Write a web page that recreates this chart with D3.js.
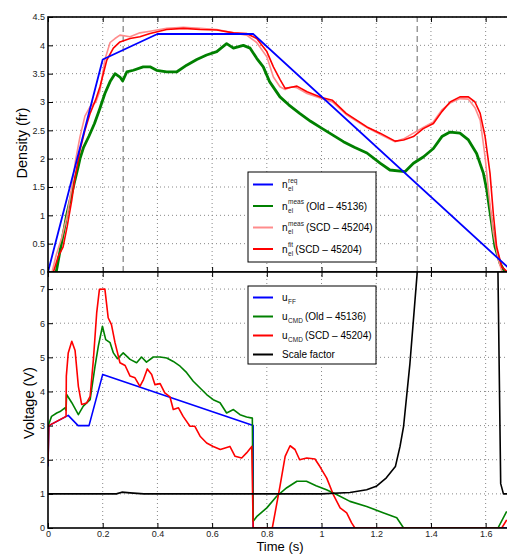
<!DOCTYPE html>
<html>
<head>
<meta charset="utf-8">
<script src="https://cdn.jsdelivr.net/npm/d3@7"></script>
<style>
body { margin: 0; background: #fff; }
text { font-family: "Liberation Sans", Arial, sans-serif; }
</style>
</head>
<body>
<div id="chart"></div>
<script>
// ticks
const xTicks = [0, 0.2, 0.4, 0.6, 0.8, 1, 1.2, 1.4, 1.6]
const densTicks = [0, 0.5, 1, 1.5, 2, 2.5, 3, 3.5, 4, 4.5]
const voltTicks = [0, 1, 2, 3, 4, 5, 6, 7]
const markerTimes = [0.275, 1.35]

// top panel: density
const reqT = [0, 0.2, 0.4, 0.75, 1.7]
const reqV = [0, 3.75, 4.2, 4.2, 0]

const oldMeasT = [0.03, 0.045, 0.06, 0.068, 0.08, 0.095, 0.11, 0.117, 0.13, 0.15, 0.17, 0.19, 0.208, 0.227, 0.245, 0.263, 0.273, 0.288, 0.312, 0.348, 0.373, 0.397, 0.434, 0.47, 0.507, 0.544, 0.58, 0.617, 0.653, 0.678, 0.714, 0.739, 0.763, 0.787, 0.81, 0.848, 0.88, 0.92, 0.96, 1.0, 1.04, 1.08, 1.12, 1.166, 1.214, 1.25, 1.305, 1.336, 1.372, 1.409, 1.44, 1.47, 1.506, 1.537, 1.567, 1.592, 1.604, 1.622, 1.634, 1.653, 1.67]
const oldMeasV = [0, 0.4, 0.78, 1.0, 1.25, 1.55, 1.85, 2.0, 2.2, 2.4, 2.62, 2.89, 3.15, 3.36, 3.5, 3.44, 3.37, 3.53, 3.56, 3.62, 3.62, 3.56, 3.53, 3.53, 3.65, 3.75, 3.83, 3.89, 4.03, 3.95, 4.0, 3.95, 3.77, 3.62, 3.36, 3.09, 2.95, 2.8, 2.66, 2.54, 2.42, 2.3, 2.2, 2.1, 1.92, 1.8, 1.77, 1.92, 2.03, 2.18, 2.39, 2.47, 2.45, 2.33, 2.09, 1.74, 1.45, 0.86, 0.45, 0.15, 0]

const scdMeasT = [0.015, 0.03, 0.05, 0.07, 0.087, 0.1, 0.117, 0.135, 0.154, 0.175, 0.19, 0.208, 0.227, 0.245, 0.263, 0.3, 0.336, 0.373, 0.434, 0.495, 0.556, 0.617, 0.678, 0.726, 0.763, 0.8, 0.824, 0.848, 0.867, 0.89, 0.91, 0.947, 1.0, 1.04, 1.09, 1.166, 1.214, 1.269, 1.3, 1.336, 1.372, 1.409, 1.44, 1.47, 1.506, 1.537, 1.561, 1.58, 1.598, 1.61, 1.628, 1.647, 1.66]
const scdMeasV = [0, 0.3, 0.6, 1.0, 1.5, 1.95, 2.39, 2.75, 2.92, 3.0, 3.2, 3.75, 4.05, 4.12, 4.18, 4.15, 4.22, 4.25, 4.3, 4.32, 4.3, 4.28, 4.22, 4.18, 4.05, 3.8, 3.44, 3.27, 3.22, 3.27, 3.25, 3.15, 3.06, 3.0, 2.78, 2.55, 2.43, 2.3, 2.35, 2.45, 2.55, 2.65, 2.86, 2.98, 3.06, 3.05, 2.9, 2.68, 2.03, 1.45, 0.69, 0.21, 0]

const scdFitT = [0.02, 0.037, 0.055, 0.07, 0.087, 0.1, 0.117, 0.135, 0.154, 0.175, 0.19, 0.215, 0.239, 0.263, 0.3, 0.336, 0.373, 0.434, 0.495, 0.556, 0.617, 0.678, 0.726, 0.763, 0.8, 0.824, 0.848, 0.867, 0.89, 0.91, 0.947, 1.0, 1.04, 1.09, 1.166, 1.214, 1.269, 1.3, 1.336, 1.372, 1.409, 1.44, 1.47, 1.506, 1.537, 1.561, 1.58, 1.598, 1.616, 1.628, 1.64, 1.659, 1.68]
const scdFitV = [0, 0.27, 0.44, 0.8, 1.27, 1.7, 2.15, 2.5, 2.8, 3.05, 3.27, 3.74, 3.95, 4.06, 4.12, 4.15, 4.21, 4.28, 4.3, 4.28, 4.27, 4.22, 4.21, 4.12, 3.89, 3.62, 3.4, 3.24, 3.26, 3.28, 3.18, 3.08, 3.03, 2.8, 2.56, 2.45, 2.31, 2.33, 2.39, 2.53, 2.62, 2.83, 3.0, 3.09, 3.09, 3.0, 2.8, 2.39, 1.74, 1.03, 0.45, 0.09, 0]

// bottom panel: voltage
const ffT = [0, 0.003, 0.074, 0.11, 0.15, 0.2, 0.75, 0.7501, 1.7]
const ffV = [1.8, 3.0, 3.3, 3.0, 3.0, 4.5, 3.0, 0, 0]

const oldCmdT = [0, 0.013, 0.032, 0.044, 0.062, 0.066, 0.068, 0.087, 0.111, 0.129, 0.154, 0.172, 0.184, 0.199, 0.211, 0.227, 0.239, 0.254, 0.275, 0.3, 0.324, 0.342, 0.36, 0.385, 0.41, 0.434, 0.458, 0.483, 0.507, 0.531, 0.556, 0.58, 0.604, 0.629, 0.653, 0.678, 0.702, 0.726, 0.747, 0.7501, 0.765, 0.8, 0.836, 0.873, 0.91, 0.945, 0.98, 1.018, 1.055, 1.104, 1.165, 1.225, 1.275, 1.3, 1.645, 1.677]
const oldCmdV = [2.98, 3.27, 3.37, 3.41, 3.52, 3.45, 3.91, 3.67, 3.32, 3.57, 3.76, 4.74, 5.33, 5.91, 5.52, 5.43, 5.13, 4.96, 5.13, 4.94, 4.84, 5.01, 4.86, 5.01, 5.01, 4.98, 4.88, 4.74, 4.55, 4.3, 4.1, 3.91, 3.76, 3.67, 3.37, 3.47, 3.32, 3.25, 3.22, 0.2, 0.35, 0.59, 0.93, 1.18, 1.37, 1.37, 1.24, 1.12, 0.98, 0.78, 0.63, 0.45, 0.3, 0, 0, 0.49]

const scdCmdT = [0, 0.003, 0.066, 0.067, 0.074, 0.087, 0.099, 0.111, 0.123, 0.141, 0.154, 0.166, 0.178, 0.188, 0.208, 0.22, 0.232, 0.245, 0.263, 0.282, 0.3, 0.318, 0.336, 0.349, 0.363, 0.379, 0.391, 0.41, 0.427, 0.446, 0.458, 0.477, 0.494, 0.519, 0.537, 0.556, 0.58, 0.604, 0.63, 0.665, 0.684, 0.708, 0.726, 0.745, 0.7501, 0.82, 0.848, 0.867, 0.885, 0.903, 0.92, 0.946, 0.976, 0.994, 1.019, 1.043, 1.068, 1.092, 1.11, 1.122, 1.659, 1.677]
const scdCmdV = [1.9, 3.0, 3.27, 4.45, 5.13, 5.47, 5.2, 4.15, 3.62, 3.66, 3.86, 4.94, 6.3, 6.99, 7.0, 6.16, 5.96, 5.43, 4.84, 4.76, 4.45, 4.4, 4.15, 4.35, 4.66, 4.5, 4.2, 4.23, 3.96, 3.84, 3.47, 3.52, 3.27, 2.98, 2.98, 2.69, 2.49, 2.39, 2.3, 2.39, 2.1, 2.05, 2.2, 2.39, 0, 0, 1.22, 2.1, 2.41, 2.3, 2.0, 2.05, 2.02, 1.8, 1.46, 0.98, 0.59, 0.44, 0.15, 0, 0, 0.24]

const scaleT = [0, 0.25, 0.27, 0.3, 0.35, 1.0, 1.104, 1.165, 1.2, 1.237, 1.27, 1.287, 1.3, 1.323, 1.349, 1.36, 1.63, 1.645, 1.655, 1.665, 1.7]
const scaleV = [1.0, 1.0, 1.05, 1.03, 1.0, 1.0, 1.04, 1.12, 1.22, 1.47, 1.8, 2.39, 2.98, 4.8, 7.4, 9, 9, 7.5, 1.3, 1.0, 1.0]

// legends
const topLegend = [
  {base: "n", sup: "req", sub: "el", rest: ""},
  {base: "n", sup: "meas", sub: "el", rest: "(Old \u2013 45136)"},
  {base: "n", sup: "meas", sub: "el", rest: "(SCD \u2013 45204)"},
  {base: "n", sup: "fit", sub: "el", rest: "(SCD \u2013 45204)"}
]
const botLegend = [
  {base: "u", sup: "", sub: "FF", rest: ""},
  {base: "u", sup: "", sub: "CMD", rest: "(Old \u2013 45136)"},
  {base: "u", sup: "", sub: "CMD", rest: "(SCD \u2013 45204)"},
  {base: "Scale factor", sup: "", sub: "", rest: ""}
]

const blue = "#0000ff", green = "#008000", red = "#ff0000", pink = "#ff8c8c"

const svg = d3.select("#chart")
              .append("svg")
              .attr("width", 507)
              .attr("height", 554)

const x = d3.scaleLinear().domain([0, 1.7]).range([48, 513])
const yTop = d3.scaleLinear().domain([0, 4.5]).range([272, 17])
const yBot = d3.scaleLinear().domain([0, 7.5]).range([528, 272])

function drawPanel(y, yTicks, id, showX) {
  const [x0, x1] = x.range()
  const [yb, yt] = y.range()
  const g = svg.append("g")

  g.append("rect")
   .attr("x", x0).attr("y", yt)
   .attr("width", x1 - x0).attr("height", yb - yt)
   .attr("fill", "#fff")

  svg.append("clipPath").attr("id", id)
     .append("rect")
     .attr("x", x0).attr("y", yt)
     .attr("width", x1 - x0).attr("height", yb - yt)

  // dotted grid
  g.append("g").selectAll("line")
   .data(xTicks.filter(d => d > 0))
   .join("line")
   .attr("x1", d => x(d)).attr("x2", d => x(d))
   .attr("y1", yb).attr("y2", yt)
   .attr("stroke", "#888").attr("stroke-dasharray", "1,3")
  g.append("g").selectAll("line")
   .data(yTicks.filter(d => d > 0))
   .join("line")
   .attr("x1", x0).attr("x2", x1)
   .attr("y1", d => y(d)).attr("y2", d => y(d))
   .attr("stroke", "#888").attr("stroke-dasharray", "1,3")

  const plot = g.append("g").attr("clip-path", `url(#${id})`)
  return {g, plot, showX}
}

function finishPanel(p, y, yTicks) {
  const [x0, x1] = x.range()
  const [yb, yt] = y.range()
  const g = p.g

  const bottomAxis = g.append("g")
     .attr("transform", `translate(0,${yb})`)
     .call(d3.axisBottom(x).tickValues(xTicks).tickSize(-5).tickPadding(3)
             .tickFormat(p.showX ? d => d : ""))
  const topAxis = g.append("g")
     .attr("transform", `translate(0,${yt})`)
     .call(d3.axisTop(x).tickValues(xTicks).tickSize(-5).tickFormat(""))
  const leftAxis = g.append("g")
     .attr("transform", `translate(${x0},0)`)
     .call(d3.axisLeft(y).tickValues(yTicks).tickSize(-5).tickPadding(3).tickFormat(d => d))

  ;[bottomAxis, topAxis, leftAxis].forEach(a => {
    a.select(".domain").remove()
    a.attr("font-size", 9).attr("font-family", "'Liberation Sans', Arial, sans-serif")
    a.selectAll("text").attr("fill", "#222")
  })

  g.append("rect")
   .attr("x", x0).attr("y", yt)
   .attr("width", x1 - x0).attr("height", yb - yt)
   .attr("fill", "none").attr("stroke", "#000").attr("stroke-width", 1.6)
}

function drawSeries(plot, y, T, V, color, w) {
  const line = d3.line().x(d => x(d[0])).y(d => y(d[1]))
  plot.append("path")
      .datum(d3.zip(T, V))
      .attr("d", line)
      .attr("fill", "none")
      .attr("stroke", color)
      .attr("stroke-width", w)
      .attr("stroke-linejoin", "round")
}

function drawLegend(items, colors, bx, by, bw, bh, rowYs) {
  const lg = svg.append("g")
  lg.append("rect")
    .attr("x", bx).attr("y", by).attr("width", bw).attr("height", bh)
    .attr("fill", "#fff").attr("stroke", "#000").attr("stroke-width", 1)
  items.forEach((it, i) => {
    const cy = rowYs[i]
    lg.append("line")
      .attr("x1", bx + 5).attr("x2", bx + 25)
      .attr("y1", cy).attr("y2", cy)
      .attr("stroke", colors[i]).attr("stroke-width", 2)
    const base = lg.append("text")
      .attr("x", bx + 34).attr("y", cy + 3.5)
      .attr("font-size", 10).text(it.base)
    let nx = bx + 34 + base.node().getComputedTextLength() + 0.5
    let extra = 0
    if (it.sup) {
      const s = lg.append("text").attr("x", nx).attr("y", cy - 2)
                  .attr("font-size", 6.5).attr("fill", "#222").text(it.sup)
      extra = Math.max(extra, s.node().getComputedTextLength())
    }
    if (it.sub) {
      const s = lg.append("text").attr("x", nx).attr("y", cy + 6.5)
                  .attr("font-size", 6.5).attr("fill", "#222").text(it.sub)
      extra = Math.max(extra, s.node().getComputedTextLength())
    }
    if (it.rest) {
      lg.append("text").attr("x", nx + extra + 2).attr("y", cy + 3.5)
        .attr("font-size", 10).text(it.rest)
    }
  })
}

// top panel
const topP = drawPanel(yTop, densTicks, "clipTop", false)
topP.plot.selectAll(".marker")
   .data(markerTimes)
   .join("line")
   .attr("x1", d => x(d)).attr("x2", d => x(d))
   .attr("y1", yTop.range()[0]).attr("y2", yTop.range()[1])
   .attr("stroke", "#999").attr("stroke-width", 1.5).attr("stroke-dasharray", "6,4")
drawSeries(topP.plot, yTop, oldMeasT, oldMeasV, green, 2.8)
drawSeries(topP.plot, yTop, scdMeasT, scdMeasV, pink, 1.6)
drawSeries(topP.plot, yTop, scdFitT, scdFitV, red, 1.6)
drawSeries(topP.plot, yTop, reqT, reqV, blue, 1.8)
finishPanel(topP, yTop, densTicks)
drawLegend(topLegend, [blue, green, pink, red], 248, 172, 128, 90, [184.5, 206, 227.5, 249])

// bottom panel
const botP = drawPanel(yBot, voltTicks, "clipBot", true)
drawSeries(botP.plot, yBot, ffT, ffV, blue, 1.6)
drawSeries(botP.plot, yBot, oldCmdT, oldCmdV, green, 1.6)
drawSeries(botP.plot, yBot, scdCmdT, scdCmdV, red, 1.6)
drawSeries(botP.plot, yBot, scaleT, scaleV, "#000", 1.6)
finishPanel(botP, yBot, voltTicks)
drawLegend(botLegend, [blue, green, red, "#000"], 248, 286, 128, 78, [297.5, 316.5, 335.5, 354.5])

// axis titles
svg.append("text")
   .attr("transform", "translate(27,143) rotate(-90)")
   .attr("text-anchor", "middle").attr("font-size", 14.5)
   .text("Density (fr)")
svg.append("text")
   .attr("transform", "translate(34,403) rotate(-90)")
   .attr("text-anchor", "middle").attr("font-size", 14.5)
   .text("Voltage (V)")
svg.append("text")
   .attr("x", 280).attr("y", 551)
   .attr("text-anchor", "middle").attr("font-size", 13)
   .text("Time (s)")
</script>
</body>
</html>
